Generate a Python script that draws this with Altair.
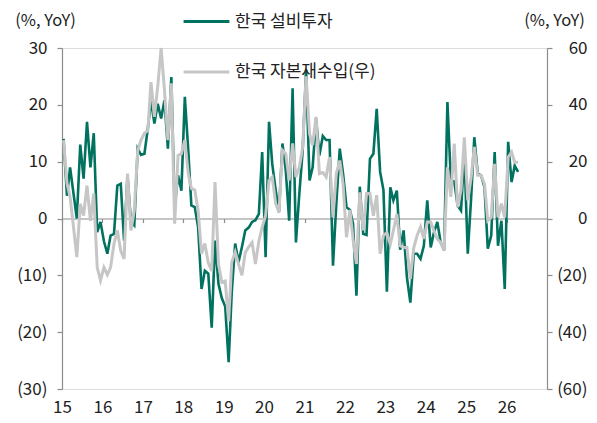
import altair as alt
import pandas as pd

# 한국 설비투자 (left axis, % YoY), monthly from 2015-01
equip = [14, 4, 9, 4.4, 0, 13, 7, 17, 9, 15, -2.4, -0.6,
         -4, -6.2, -3, -2.7, 5.8, 6.1, -3.9, 7.6, -0.6, -1.2, 12.3, 11.2,
         11.4, 15.9, 20.8, 16.7, 20.2, 17.6, 20.8, 12.3, 24.9, 2.0, 7.6, 4.9,
         21.4, 12, 2.3, 2.0, -1.5, -12.4, -9.2, -9.7, -19.2, -3.9, -11.5, -14,
         -15.5, -25.3, -13, -4.4, -7.7, -5, -2.1, -1.6, -0.6, -0.3, 0.8, 11.7,
         -6.8, 17, 9.6, 5, 1.1, 13.2, 8.5, -0.4, 22.9, -4.2, 4.4, 12,
         26.1, 6.7, 9, 17.6, 11.1, 14.5, 13.8, 13.8, -8.3, 2.6, 12.3, 7.9,
         2.0, 1.5, -0.9, -13.6, 5.6, -2.7, -2.9, 10.5, 11.4, 19.3, 8.2, 5,
         -12.9, 5.5, 3.2, 4.9, -5.5, -2.1, -10.3, -14.8, -6.2, -6.2, -7.1, -4.8,
         3.2, -5.1, -2.5, -0.6, -4.2, -5.6, 20.5, 6.7, 6.5, 2.3, 1.4, 11.7,
         -6.2, 3.8, 14.3, 7.9, 7.6, 5.5, -5.3, -3.0, 11.7, -4.8, -0.4, -12.4,
         13.5, 6.4, 9.3, 8.2]

# 한국 자본재수입 (right axis, % YoY)
imports = [27.6, 12.4, 7.6, -3, -13.6, 5.2, 1, 11.6, -0.8, 8.8, -17.2, -21.8,
           -17.2, -19.8, -17.2, -8.8, -4.2, -11.4, -14.2, 15.8, -4.2, 2.8, 23.8, 27.6,
           30, 31, 48, 35.8, 46.4, 60, 45.2, 27.6, 47.6, -1.8, 22.2, 22.8,
           27.6, 15.8, 10.6, 10, 2.8, -12.4, -8.8, -15.6, -18.4, 12.8, -16, -22.4,
           -22, -36, -15.4, -11.8, -16, -20, -12, -10, -8.4, -16, -8, -3,
           1, 13.4, 14.6, 5.2, 2.2, 24, 22.8, 13.4, 26.4, 14.6, 18, 25.2,
           50, 29.8, 25.8, 35.8, 15.8, 16.2, 14.6, 21.6, 0.4, 15.8, 20.4, 12.2,
           -6.6, 3, -7.2, -16, 9.2, -4.2, 8.8, 8.8, 1, 8.2, -12.4, -6,
           -5, -9, -4.2, 1.6, -9.6, -10.2, -10.2, -21.2, -10.2, -6, -3, -7.2,
           -1.2, -1.2, -4.2, -7.2, -8.4, -11.2, 18, 7.6, 26.4, 4, 10, 28.6,
           6.4, 14.6, 25.2, 15.2, 15.2, 12.2, -0.8, 0.4, 19.2, 0.4, 5.2, 0.4,
           21.6, 23.4, 19.8, 19.8]

series_names = ["한국 설비투자", "한국 자본재수입(우)"]
series_colors = ["#00725F", "#C6C6C6"]
year_ticks = [f"{y}-01-01" for y in range(2015, 2027)]
left_ticks = [-30, -20, -10, 0, 10, 20, 30]
right_ticks = [-60, -40, -20, 0, 20, 40, 60]

dates = pd.date_range("2015-01-01", periods=len(equip), freq="MS") + pd.Timedelta(days=14)
df_equip = pd.DataFrame({"date": dates, "value": equip, "series": series_names[0]})
df_imp = pd.DataFrame({"date": dates, "value": imports, "series": series_names[1]})

FONT = "Noto Sans CJK KR"
W, H = 485, 341
FS = 17

x_axis = alt.Axis(values=year_ticks, format="%y", title=None, grid=False,
                  offset=-H / 2, domain=True, domainColor="#8C8C8C", domainWidth=1.2,
                  ticks=True, tickSize=4, tickColor="#8C8C8C", tickWidth=1.2,
                  labelPadding=177, labelFontSize=FS, labelColor="#222222",
                  labelFont=FONT, labelFlush=False)
x_enc = alt.X("date:T", scale=alt.Scale(domain=["2015-01-01", "2027-01-01"]), axis=x_axis)

color_enc = alt.Color("series:N",
                      scale=alt.Scale(domain=series_names, range=series_colors),
                      legend=alt.Legend(title=None, orient="none", legendX=120, legendY=-51,
                                        direction="vertical", symbolType="stroke",
                                        symbolSize=2100, symbolStrokeWidth=3,
                                        labelFontSize=17, labelFont=FONT, labelColor="#222222",
                                        labelOffset=4, rowPadding=17.5, padding=0))

label_expr = "datum.value < 0 ? '(' + (-datum.value) + ')' : '' + datum.value"

left = alt.Chart(df_equip).mark_line(strokeWidth=2.6).encode(
    x=x_enc,
    y=alt.Y("value:Q", scale=alt.Scale(domain=[-30, 30], nice=False),
            axis=alt.Axis(orient="left", values=left_ticks, grid=False,
                          labelExpr=label_expr,
                          domainColor="#8C8C8C", domainWidth=1.2, tickColor="#8C8C8C",
                          tickWidth=1.2, tickSize=5, labelPadding=10, labelFontSize=FS,
                          labelFont=FONT, labelColor="#222222",
                          title="(%, YoY)", titleAngle=0, titleX=-17, titleY=-28,
                          titleAlign="center", titleBaseline="middle", titleFont=FONT,
                          titleFontSize=16.5, titleFontWeight="normal", titleColor="#222222")),
    color=color_enc,
)

right = alt.Chart(df_imp).mark_line(strokeWidth=3).encode(
    x=x_enc,
    y=alt.Y("value:Q", scale=alt.Scale(domain=[-60, 60], nice=False),
            axis=alt.Axis(orient="right", values=right_ticks, grid=False,
                          labelExpr=label_expr, labelAlign="right",
                          domainColor="#8C8C8C", domainWidth=1.2, tickColor="#8C8C8C",
                          tickWidth=1.2, tickSize=5, labelPadding=35, labelFontSize=FS,
                          labelFont=FONT, labelColor="#222222",
                          title="(%, YoY)", titleAngle=0, titleX=7, titleY=-28,
                          titleAlign="center", titleBaseline="middle", titleFont=FONT,
                          titleFontSize=16.5, titleFontWeight="normal", titleColor="#222222")),
    color=color_enc,
)

chart = alt.layer(left, right).resolve_scale(y="independent").properties(
    width=W, height=H,
    autosize=alt.AutoSizeParams(type="none"),
    padding={"left": 54, "top": 40, "right": 42, "bottom": 31},
).configure_view(stroke=None).configure(font=FONT)

chart.save("out.html", embed_options={"renderer": "svg", "actions": False})
